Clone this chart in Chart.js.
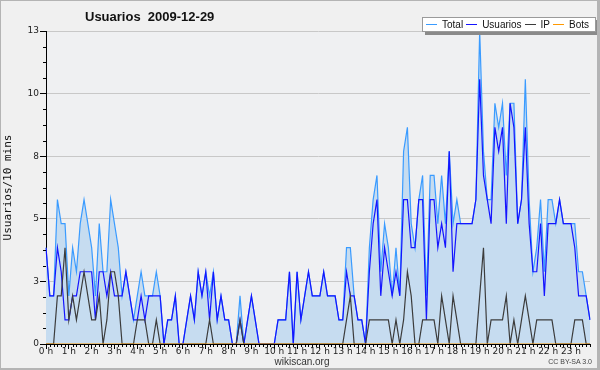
<!DOCTYPE html>
<html>
<head>
<meta charset="utf-8">
<title>Usuarios 2009-12-29</title>
<script src="https://cdn.jsdelivr.net/npm/chart.js@4.4.1/dist/chart.umd.min.js"></script>
<style>
  body { margin: 0; background: #f0f0f0; }
  #frame { position: relative; width: 600px; height: 370px; background: #f0f0f0; overflow: hidden;
           font-family: "Liberation Sans", Arial, sans-serif; }
  #frame canvas { position: absolute; left: 0; top: 0; }
  #border { position: absolute; left: 0; top: 0; right: 0; bottom: 0; box-sizing: border-box;
            border: 1px solid #b4b4b4; border-right-width: 3px; border-bottom-width: 2px; pointer-events: none; }
  #title { position: absolute; left: 85px; top: 9px; font-weight: bold; font-size: 13px; line-height: 15px;
           white-space: pre; color: #111; }
  #legend { position: absolute; left: 422px; top: 17px; width: 169px; height: 13px; padding-left: 3px;
            background: #fff; border: 1px solid #9a9a9a; box-shadow: 3px 3px 0 #8a8a8a;
            font-size: 10px; line-height: 13px; white-space: nowrap; color: #111; }
  #legend .swatch { display: inline-block; width: 11px; height: 1px; vertical-align: 3px; margin-right: 5px; }
  #legend .name { margin-right: 3px; }
  #site { position: absolute; left: 0; width: 604px; top: 356px; text-align: center; font-size: 10px; color: #333; }
  #licence { position: absolute; right: 8px; top: 358px; font-size: 7px; color: #444; }
</style>
</head>
<body>
<div id="frame">
  <canvas id="usersChart" width="600" height="370"></canvas>
  <div id="title">Usuarios  2009-12-29</div>
  <div id="legend"></div>
  <div id="site">wikiscan.org</div>
  <div id="licence">CC BY-SA 3.0</div>
  <div id="border"></div>
</div>
<script>
// Users per 10 minute slot over one day (144 slots)
const hourTicks = ['0 h', '1 h', '2 h', '3 h', '4 h', '5 h', '6 h', '7 h', '8 h', '9 h', '10 h', '11 h',
                   '12 h', '13 h', '14 h', '15 h', '16 h', '17 h', '18 h', '19 h', '20 h', '21 h', '22 h', '23 h'];
const slotsPerHour = 6;

// y axis: 13 split in five, labels are rounded on the original
const yTickValues = [0, 2.6, 5.2, 7.8, 10.4, 13];
const yTickLabels = ['0', '3', '5', '8', '10', '13'];

const total = [
  4, 2, 2, 6, 5, 5, 2, 4, 3, 5, 6, 5,
  4, 2, 5, 3, 3, 6, 5, 4, 2, 3, 2, 1,
  2, 3, 2, 2, 2, 3, 2, 0, 1, 1, 2, 0,
  0, 1, 2, 1, 3, 2, 3, 2, 3, 1, 2, 1,
  1, 0, 0, 2, 0, 1, 2, 1, 0, 0, 0, 0,
  0, 1, 1, 1, 3, 0, 3, 1, 2, 3, 2, 2,
  2, 3, 2, 2, 2, 1, 1, 4, 4, 2, 1, 1,
  0, 4, 6, 7, 3, 5, 4, 2, 4, 2, 8, 9,
  5, 4, 6, 7, 2, 7, 7, 5, 7, 5, 8, 5,
  6, 5, 5, 5, 5, 6, 13, 8, 6, 6, 10, 9,
  10, 7, 10, 10, 5, 6, 11, 6, 3, 4, 6, 3,
  6, 6, 5, 6, 5, 5, 5, 5, 3, 3, 2, 1
];

const usuarios = [
  4, 2, 2, 4, 3, 1, 1, 2, 2, 3, 3, 3,
  3, 1, 3, 3, 2, 3, 2, 2, 2, 3, 2, 1,
  1, 2, 1, 2, 2, 2, 2, 0, 1, 1, 2, 0,
  0, 1, 2, 1, 3, 2, 3, 1, 3, 1, 2, 1,
  1, 0, 0, 1, 0, 1, 2, 1, 0, 0, 0, 0,
  0, 1, 1, 1, 3, 0, 3, 1, 2, 3, 2, 2,
  2, 3, 2, 2, 2, 1, 1, 3, 2, 2, 1, 1,
  0, 3, 5, 6, 2, 4, 3, 2, 3, 2, 6, 6,
  4, 4, 6, 6, 1, 6, 6, 4, 5, 4, 8, 3,
  5, 5, 5, 5, 5, 6, 11, 7, 6, 5, 9, 8,
  9, 5, 10, 9, 5, 6, 9, 5, 3, 3, 5, 2,
  5, 5, 5, 6, 5, 5, 5, 4, 2, 2, 2, 1
];

const ip = [
  0, 0, 0, 2, 2, 4, 1, 2, 1, 2, 3, 2,
  1, 1, 2, 0, 1, 3, 3, 2, 0, 0, 0, 0,
  1, 1, 1, 0, 0, 1, 0, 0, 0, 0, 0, 0,
  0, 0, 0, 0, 0, 0, 0, 1, 0, 0, 0, 0,
  0, 0, 0, 1, 0, 0, 0, 0, 0, 0, 0, 0,
  0, 0, 0, 0, 0, 0, 0, 0, 0, 0, 0, 0,
  0, 0, 0, 0, 0, 0, 0, 1, 2, 0, 0, 0,
  0, 1, 1, 1, 1, 1, 1, 0, 1, 0, 1, 3,
  2, 0, 0, 1, 1, 1, 1, 0, 2, 1, 0, 2,
  1, 0, 0, 0, 0, 0, 2, 4, 0, 1, 1, 1,
  1, 2, 0, 1, 0, 1, 2, 1, 0, 1, 1, 1,
  1, 1, 0, 0, 0, 0, 0, 1, 1, 1, 0, 0
];

// no bot edits that day
const bots = [
  0, 0, 0, 0, 0, 0, 0, 0, 0, 0, 0, 0,
  0, 0, 0, 0, 0, 0, 0, 0, 0, 0, 0, 0,
  0, 0, 0, 0, 0, 0, 0, 0, 0, 0, 0, 0,
  0, 0, 0, 0, 0, 0, 0, 0, 0, 0, 0, 0,
  0, 0, 0, 0, 0, 0, 0, 0, 0, 0, 0, 0,
  0, 0, 0, 0, 0, 0, 0, 0, 0, 0, 0, 0,
  0, 0, 0, 0, 0, 0, 0, 0, 0, 0, 0, 0,
  0, 0, 0, 0, 0, 0, 0, 0, 0, 0, 0, 0,
  0, 0, 0, 0, 0, 0, 0, 0, 0, 0, 0, 0,
  0, 0, 0, 0, 0, 0, 0, 0, 0, 0, 0, 0,
  0, 0, 0, 0, 0, 0, 0, 0, 0, 0, 0, 0,
  0, 0, 0, 0, 0, 0, 0, 0, 0, 0, 0, 0
];

const seriesNames = ['Total', 'Usuarios', 'IP', 'Bots'];
const seriesColors = ['#3a9bff', '#1414ff', '#3c3c3c', '#ff9900'];

// one category per 10 min slot, e.g. "0 h 0"
const timeSlots = [];
hourTicks.forEach(h => {
    for (let m = 0; m < slotsPerHour; m++) timeSlots.push(h + ' ' + (m * 10));
});

// Legend box like the original (line + name)
const legendBox = document.getElementById('legend');
seriesNames.forEach((name, i) => {
    const sw = document.createElement('span');
    sw.className = 'swatch';
    sw.style.backgroundColor = seriesColors[i];
    const txt = document.createElement('span');
    txt.className = 'name';
    txt.textContent = name;
    legendBox.appendChild(sw);
    legendBox.appendChild(txt);
});

// Plot background + the small minor tick marks on both axes
const axisExtras = {
    id: 'axisExtras',
    beforeDraw(chart) {
        const { ctx, chartArea: a } = chart;
        ctx.save();
        ctx.fillStyle = '#eff0f2';
        ctx.fillRect(a.left, a.top, a.right - a.left, a.bottom - a.top);
        ctx.restore();
    },
    afterDraw(chart) {
        const { ctx } = chart;
        const xs = chart.scales.x, ys = chart.scales.y;
        ctx.save();
        ctx.strokeStyle = '#000';
        ctx.lineWidth = 1;
        ctx.beginPath();
        for (let i = 0; i < timeSlots.length; i++) {
            if (i % slotsPerHour === 0) continue;
            const px = Math.round(xs.getPixelForValue(i)) + 0.5;
            ctx.moveTo(px, xs.top);
            ctx.lineTo(px, xs.top + 3);
        }
        const minorStep = yTickValues[1] / 4;
        for (let k = 0; k * minorStep <= ys.max + 0.001; k++) {
            if (k % 4 === 0) continue;
            const py = Math.round(ys.getPixelForValue(k * minorStep)) + 0.5;
            ctx.moveTo(ys.right - 3, py);
            ctx.lineTo(ys.right, py);
        }
        ctx.stroke();
        ctx.restore();
    }
};

Chart.defaults.font.family = '"DejaVu Sans", sans-serif';

const lineSet = (idx, data, extra) => Object.assign({
    label: seriesNames[idx],
    data: data,
    borderColor: seriesColors[idx],
    borderWidth: 1.2,
    pointRadius: 0,
    tension: 0,
    fill: false
}, extra || {});

new Chart(document.getElementById('usersChart'), {
    type: 'line',
    data: {
        labels: timeSlots,
        // first dataset is drawn on top
        datasets: [
            lineSet(3, bots),
            lineSet(2, ip),
            lineSet(1, usuarios),
            lineSet(0, total, { fill: 'origin', backgroundColor: '#c6dcf0' })
        ]
    },
    options: {
        responsive: false,
        animation: false,
        layout: { padding: { left: 0, top: 31, right: 10, bottom: 0 } },
        plugins: {
            legend: { display: false },
            tooltip: { enabled: false }
        },
        scales: {
            x: {
                type: 'category',
                offset: false,
                z: 1,
                border: { color: '#000', width: 1 },
                grid: {
                    drawOnChartArea: false,
                    tickLength: 5,
                    tickColor: c => (c.index % slotsPerHour === 0 ? '#000' : 'rgba(0,0,0,0)')
                },
                ticks: {
                    autoSkip: false,
                    maxRotation: 0,
                    minRotation: 0,
                    padding: -3,
                    color: '#222',
                    font: { size: 9 },
                    callback: (v, i) => (i % slotsPerHour === 0 ? hourTicks[i / slotsPerHour] : '')
                },
                afterFit: s => { s.height = 26; }
            },
            y: {
                min: 0,
                max: 13,
                z: 1,
                border: { color: '#000', width: 1 },
                grid: {
                    color: c => (c.tick && c.tick.value === 0 ? 'rgba(0,0,0,0)' : '#c8c8c8'),
                    tickColor: '#000',
                    tickLength: 6
                },
                afterBuildTicks: s => { s.ticks = yTickValues.map(v => ({ value: v })); },
                ticks: {
                    padding: 1,
                    color: '#222',
                    font: { size: 9 },
                    callback: (v, i) => yTickLabels[i]
                },
                title: {
                    display: true,
                    text: 'Usuarios/10 mins',
                    color: '#111',
                    font: { family: '"DejaVu Sans Mono", monospace', size: 11 },
                    padding: { top: 2, bottom: 0 }
                },
                afterFit: s => { s.width = 46; }
            }
        }
    },
    plugins: [axisExtras]
});
</script>
</body>
</html>
